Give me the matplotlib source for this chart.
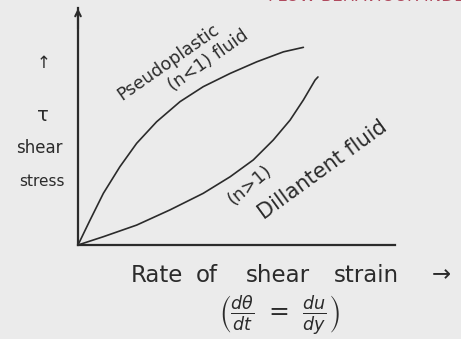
import numpy as np
import matplotlib
matplotlib.use("Agg")
import matplotlib.pyplot as plt

#-------------------------------------------------------------------------------------------------

# rate of shear strain (x) vs shear stress (y), arbitrary units
pseudo_x = [0.0, 0.038, 0.080, 0.132, 0.185, 0.248, 0.322, 0.395, 0.480, 0.564, 0.648, 0.711]
pseudo_y = [0.0, 0.105, 0.218, 0.330, 0.429, 0.520, 0.605, 0.668, 0.724, 0.773, 0.815, 0.834]

dilat_x = [0.0, 0.080, 0.185, 0.290, 0.395, 0.480, 0.553, 0.616, 0.669, 0.711, 0.748, 0.757]
dilat_y = [0.0, 0.035, 0.084, 0.148, 0.218, 0.288, 0.359, 0.443, 0.527, 0.612, 0.696, 0.709]

xlabel_words = ["Rate", "of", "shear", "strain", "→"]
xlabel_pos = [157, 207, 278, 366, 441]

W, H = 461, 339
ink = "#2b2b2b"
paper = "#ebebeb"

#-------------------------------------------------------------------------------------------------

def px(x, y):
	# pixel position -> figure fraction
	return x / W, 1 - y / H

def note(x, y, s, size=11, rot=0, color=ink, **kw):
	fx, fy = px(x, y)
	fig.text(fx, fy, s, fontsize=size, rotation=rot, color=color,
		ha="center", va="center", rotation_mode="anchor", **kw)

fig = plt.figure(figsize=(W / 100, H / 100), dpi=100, facecolor=paper)
l, b = px(78, 245)
ax = fig.add_axes([l, b, (395 - 78) / W, (245 - 8) / H])
ax.set_facecolor(paper)
ax.set_xlim(0, 1)
ax.set_ylim(0, 1)

for s in ["top", "right"]:
	ax.spines[s].set_visible(False)
for s in ["left", "bottom"]:
	ax.spines[s].set_color(ink)
	ax.spines[s].set_linewidth(1.6)
ax.set_xticks([])
ax.set_yticks([])

# arrow on the stress axis
ax.annotate("", xy=(0, 1.01), xytext=(0, 0.9),
	arrowprops=dict(arrowstyle="->", color=ink, lw=1.5), annotation_clip=False)

ax.plot(pseudo_x, pseudo_y, color=ink, lw=1.2, solid_capstyle="round")
ax.plot(dilat_x, dilat_y, color=ink, lw=1.2, solid_capstyle="round")

#-------------------------------------------------------------------------------------------------

note(168, 62, "Pseudoplastic", 12.5, 35)
note(208, 60, "(n<1) fluid", 12.5, 35)
note(250, 185, "(n>1)", 13, 40)
note(323, 170, "Dillantent fluid", 15, 36)

note(44, 63, "↑", 12)
note(43, 116, "τ", 14)
note(39, 148, "shear", 12)
note(42, 182, "stress", 11)

for w, x in zip(xlabel_words, xlabel_pos):
	note(x, 275, w, 16.5)
note(279, 316, r"$\left(\frac{d\theta}{dt}\ =\ \frac{du}{dy}\right)$", 18)

note(372, -4, "FLOW BEHAVIOUR INDEX", 12, 0, color="#b04a5e")

fig.savefig("out.png", dpi=100, facecolor=paper)
